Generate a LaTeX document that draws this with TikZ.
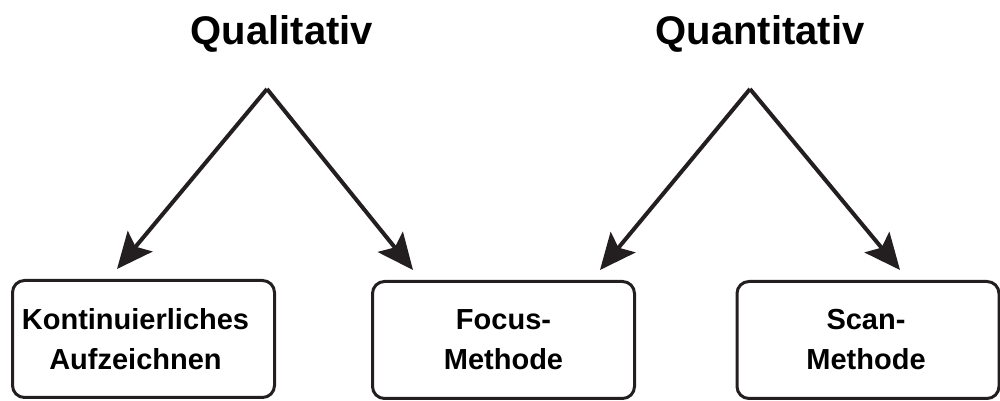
\documentclass[tikz,border=0pt]{standalone}
\usepackage{fontspec}
\setmainfont{Liberation Sans}
\usetikzlibrary{arrows.meta}
\definecolor{ink}{HTML}{231F20}
\begin{document}
\begin{tikzpicture}[x=1pt,y=1pt,
  boxnode/.style={draw=ink, line width=3pt, rounded corners=12pt, minimum width=262pt, minimum height=117pt, align=center, inner sep=0pt, font=\bfseries\fontsize{29}{40}\selectfont},
  title/.style={anchor=base, font=\bfseries\fontsize{40}{48}\selectfont},
  conn/.style={draw=ink, line width=4pt, -{Stealth[length=36pt,width=32pt,inset=7pt]}}]
\useasboundingbox (0,0) rectangle (1000,401);
\node[title] (qual) at (282,356) {Qualitativ};
\node[title] (quan) at (760,356) {Quantitativ};
\coordinate (qa) at (267,312);
\coordinate (na) at (750,312);
\node[boxnode] (kont) at (143.5,62) {\hspace*{-16pt}Kontinuierliches\\\hspace*{-16pt}Aufzeichnen};
\node[boxnode] (focus) at (503.5,61) {Focus-\\Methode};
\node[boxnode] (scan) at (868,61) {\hspace*{-4pt}Scan-\\\hspace*{-4pt}Methode};
\coordinate (t1) at (117,132);
\coordinate (t2) at (413,131);
\coordinate (t3) at (600,131);
\coordinate (t4) at (900,131);
\draw[conn] (qa) -- (t1);
\draw[conn] (qa) -- (t2);
\draw[conn] (na) -- (t3);
\draw[conn] (na) -- (t4);
\end{tikzpicture}
\end{document}
